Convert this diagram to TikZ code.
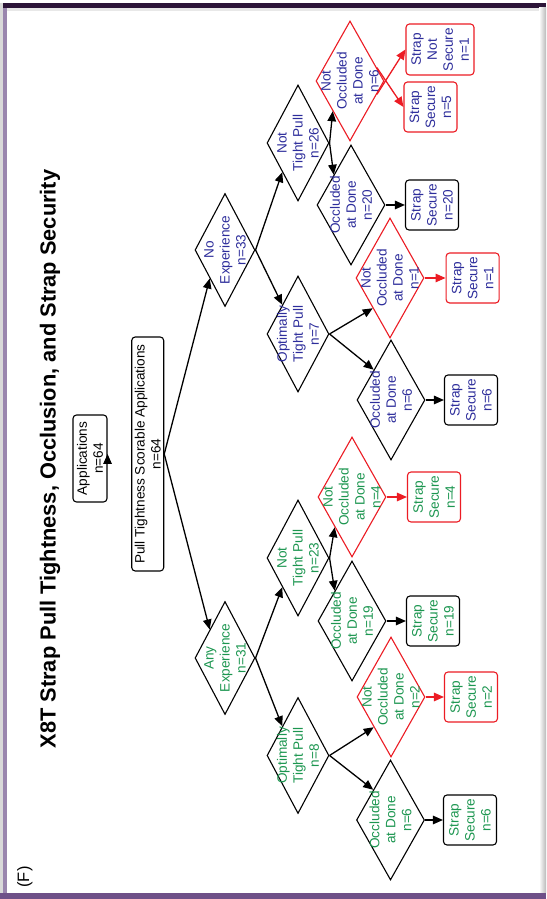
\documentclass[tikz,border=0pt]{standalone}
\usepackage{fontspec}
\setmainfont{Liberation Sans}
\usetikzlibrary{arrows.meta,shapes.geometric,calc}

\definecolor{navytxt}{RGB}{45,45,155}
\definecolor{greentxt}{RGB}{28,150,80}
\definecolor{redline}{RGB}{236,28,36}
\definecolor{framepurple}{RGB}{154,134,174}
\definecolor{framedark}{RGB}{44,20,56}
\definecolor{framebottom}{RGB}{110,80,136}

\begin{document}
\begin{tikzpicture}[x=1pt,y=1pt,
  every node/.style={font=\fontsize{13.6}{16}\selectfont, align=center, inner sep=0pt},
  box/.style={draw, rounded corners=3.5pt, line width=1.1pt, minimum width=50, minimum height=53},
  dia/.style={diamond, draw, line width=1.1pt},
  expdia/.style={dia, minimum width=113, minimum height=60},
  pulldia/.style={dia, minimum width=116, minimum height=62},
  occdia/.style={dia, minimum width=120, minimum height=68},
  redshape/.style={draw=redline},
  navy/.style={text=navytxt},
  grn/.style={text=greentxt},
  arr/.style={-{Triangle[length=10pt,width=8.5pt]}, line width=1.3pt},
  rarr/.style={arr, draw=redline, fill=redline},
]
\useasboundingbox (0,0) rectangle (546,899);

% page frame
\fill[white] (0,0) rectangle (546,899);
\fill[gray!30] (0,6) rectangle (3,896);
\fill[framepurple] (3,6) rectangle (7,891);
\fill[framedark] (3,891) rectangle (546,896);
\fill[gray!18] (7,888) rectangle (546,891);
\shade[left color=white, right color=gray!55] (539,6) rectangle (546,891);
\fill[framebottom] (0,0) rectangle (546,6);

% the tree is laid out landscape and turned a quarter turn
\begin{scope}[rotate=90, transform shape]

  \node[font=\bfseries\fontsize{21.8}{26}\selectfont, anchor=base] (title) at (440,-55.6)
    {X8T Strap Pull Tightness, Occlusion, and Strap Security};
  \node[font=\fontsize{16.5}{19}\selectfont, anchor=base] (panel) at (22,-29) {(F)};

  % root boxes
  \node[box, minimum width=87, minimum height=34] (apps) at (440.5,-90) {Applications\\n=64};
  \node[box, minimum width=234, minimum height=32] (pull) at (445,-147.7)
    {Pull Tightness Scorable Applications\\n=64};

  % experience
  \node[expdia] (noexp) at (649,-225) {};
  \node[navy] (noexp-t) at (noexp) {No\\Experience\\n=33};
  \node[expdia] (anyexp) at (241,-225) {};
  \node[grn] (anyexp-t) at (anyexp) {Any\\Experience\\n=31};

  % pull tightness
  \node[pulldia] (nt26) at (756,-298) {};
  \node[navy] (nt26-t) at (nt26) {Not\\Tight Pull\\n=26};
  \node[pulldia] (op7) at (565,-298) {};
  \node[navy] (op7-t) at (op7) {Optimally\\Tight Pull\\n=7};
  \node[pulldia] (nt23) at (341,-298) {};
  \node[grn] (nt23-t) at (nt23) {Not\\Tight Pull\\n=23};
  \node[pulldia] (op8) at (143.5,-298) {};
  \node[grn] (op8-t) at (op8) {Optimally\\Tight Pull\\n=8};

  % occlusion at done
  \node[occdia, redshape] (no6) at (818,-350) {};
  \node[navy] (no6-t) at (no6) {Not\\Occluded\\at Done\\n=6};
  \node[occdia] (oc20) at (694,-351) {};
  \node[navy] (oc20-t) at (oc20) {Occluded\\at Done\\n=20};
  \node[occdia, redshape] (no1) at (621,-390) {};
  \node[navy] (no1-t) at (no1) {Not\\Occluded\\at Done\\n=1};
  \node[occdia] (oc6b) at (499,-391) {};
  \node[navy] (oc6b-t) at (oc6b) {Occluded\\at Done\\n=6};
  \node[occdia, redshape] (no4) at (402,-352) {};
  \node[grn] (no4-t) at (no4) {Not\\Occluded\\at Done\\n=4};
  \node[occdia] (oc19) at (278,-352) {};
  \node[grn] (oc19-t) at (oc19) {Occluded\\at Done\\n=19};
  \node[occdia, redshape] (no2) at (202,-391) {};
  \node[grn] (no2-t) at (no2) {Not\\Occluded\\at Done\\n=2};
  \node[occdia] (oc6g) at (79,-390.5) {};
  \node[grn] (oc6g-t) at (oc6g) {Occluded\\at Done\\n=6};

  % strap security
  \node[box, redshape, navy, minimum width=51, minimum height=68] (sns1) at (849.5,-440) {Strap\\Not\\Secure\\n=1};
  \node[box, redshape, navy] (ss5) at (792,-430.5) {Strap\\Secure\\n=5};
  \node[box, navy] (ss20) at (694,-432) {Strap\\Secure\\n=20};
  \node[box, redshape, navy] (ss1) at (621,-472.6) {Strap\\Secure\\n=1};
  \node[box, navy] (ss6b) at (499,-471) {Strap\\Secure\\n=6};
  \node[box, redshape, grn] (ss4) at (402,-434) {Strap\\Secure\\n=4};
  \node[box, grn] (ss19) at (278,-433) {Strap\\Secure\\n=19};
  \node[box, redshape, grn] (ss2) at (202,-471) {Strap\\Secure\\n=2};
  \node[box, grn] (ss6g) at (79,-470) {Strap\\Secure\\n=6};

  % connectors
  \draw[arr] (apps.south) -- (apps.south -| pull.north);
  \draw[arr] (pull.south) -- (noexp.north west);
  \draw[arr] (pull.south) -- (anyexp.north east);

  \draw[arr] (noexp.south) -- (nt26.north west);
  \draw[arr] (noexp.south) -- (op7.north east);
  \draw[arr] (anyexp.south) -- (nt23.north west);
  \draw[arr] (anyexp.south) -- (op8.north east);

  \draw[arr] (nt26.south) -- (no6.north west);
  \draw[arr] (nt26.south) -- (oc20.north east);
  \draw[arr] (op7.south) -- (no1.north west);
  \draw[arr] (op7.south) -- (oc6b.north east);
  \draw[arr] (nt23.south) -- (no4.north west);
  \draw[arr] (nt23.south) -- (oc19.north east);
  \draw[arr] (op8.south) -- (no2.north west);
  \draw[arr] (op8.south) -- (oc6g.north east);

  \draw[rarr] ($(no6.south)!0.22!(no6.west)$) -- (sns1.north);
  \draw[rarr] ($(no6.south)!0.22!(no6.east)$) -- (ss5.north);
  \draw[arr] (oc20.south) -- (ss20.north);
  \draw[rarr] (no1.south) -- (ss1.north);
  \draw[arr] (oc6b.south) -- (ss6b.north);
  \draw[rarr] (no4.south) -- (ss4.north);
  \draw[arr] (oc19.south) -- (ss19.north);
  \draw[rarr] (no2.south) -- (ss2.north);
  \draw[arr] (oc6g.south) -- (ss6g.north);
\end{scope}
\end{tikzpicture}
\end{document}
